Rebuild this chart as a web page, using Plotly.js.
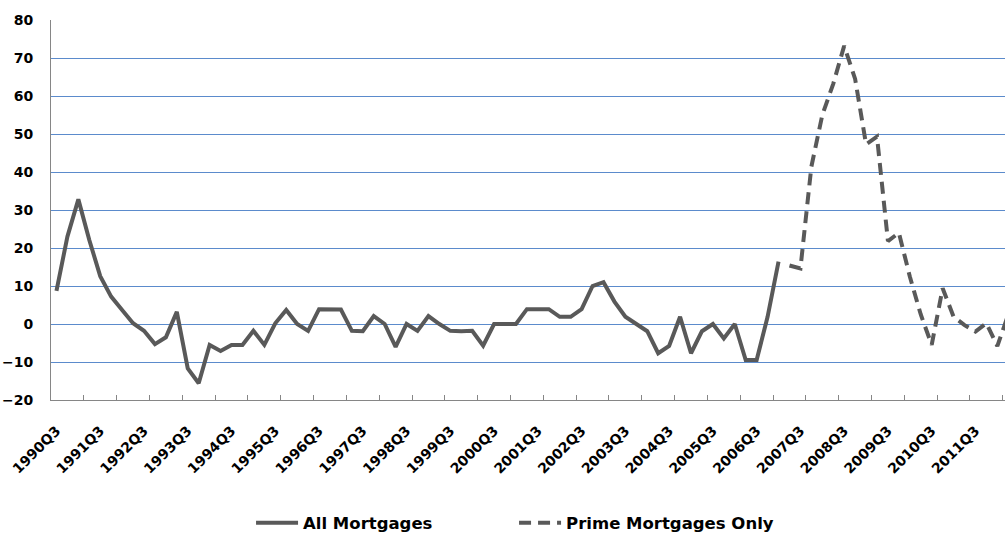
<!DOCTYPE html>
<html>
<head>
<meta charset="utf-8">
<script src="https://cdn.plot.ly/plotly-3.0.1.min.js"></script>
<style>html,body{margin:0;padding:0;background:#fff;}</style>
</head>
<body>
<div id="chart" style="width:1005px;height:537px;"></div>
<script>
// Quarters 1990Q3 .. 2012Q2
const quarters = [
"1990Q3","1990Q4",
"1991Q1","1991Q2","1991Q3","1991Q4",
"1992Q1","1992Q2","1992Q3","1992Q4",
"1993Q1","1993Q2","1993Q3","1993Q4",
"1994Q1","1994Q2","1994Q3","1994Q4",
"1995Q1","1995Q2","1995Q3","1995Q4",
"1996Q1","1996Q2","1996Q3","1996Q4",
"1997Q1","1997Q2","1997Q3","1997Q4",
"1998Q1","1998Q2","1998Q3","1998Q4",
"1999Q1","1999Q2","1999Q3","1999Q4",
"2000Q1","2000Q2","2000Q3","2000Q4",
"2001Q1","2001Q2","2001Q3","2001Q4",
"2002Q1","2002Q2","2002Q3","2002Q4",
"2003Q1","2003Q2","2003Q3","2003Q4",
"2004Q1","2004Q2","2004Q3","2004Q4",
"2005Q1","2005Q2","2005Q3","2005Q4",
"2006Q1","2006Q2","2006Q3","2006Q4",
"2007Q1","2007Q2","2007Q3","2007Q4",
"2008Q1","2008Q2","2008Q3","2008Q4",
"2009Q1","2009Q2","2009Q3","2009Q4",
"2010Q1","2010Q2","2010Q3","2010Q4",
"2011Q1","2011Q2","2011Q3","2011Q4",
"2012Q1","2012Q2"
];

// All Mortgages: 1990Q3 .. 2007Q1
const allMortgages = [
8.7, 23, 32.8, 22.1, 12.6, 7.2, 3.7, 0.2, -1.8, -5.3,
-3.5, 3.2, -11.7, -15.6, -5.5, -7.1, -5.5, -5.5, -1.8, -5.5,
0.2, 3.7, 0, -1.8, 3.9, 3.9, 3.8, -1.8, -1.9, 2.1,
0, -6, 0, -1.8, 2.1, 0, -1.8, -1.9, -1.8, -5.7,
0, 0, 0, 3.9, 3.9, 3.9, 1.9, 1.9, 3.9, 10,
11, 5.9, 1.9, 0, -1.9, -7.7, -5.8, 1.9, -7.7, -1.9,
0, -3.8, 0, -9.5, -9.5, 1.9, 16.4
];

// Prime Mortgages Only: 2007Q2 .. 2012Q2
const primeMortgages = [
15.4, 14.6, 41.4, 55, 63.2, 73.2, 64.5, 47.3, 49.3, 21.8,
24, 12.5, 2.5, -5.5, 9.4, 1.9, -0.3, -2, 0.2, -5.8, 2.5
];

// Axis tick labels (every fourth quarter)
const tickLabels = quarters.filter(q => q.endsWith("Q3"));
const yTicks = [-20, -10, 0, 10, 20, 30, 40, 50, 60, 70, 80];

const idx = quarters.map((q, i) => i);
const allX = idx.slice(0, allMortgages.length);
const primeX = idx.slice(allMortgages.length, allMortgages.length + primeMortgages.length);
const labelPos = tickLabels.map(l => quarters.indexOf(l));
const minorPos = [];
for (let k = 3; k <= quarters.length; k += 3) minorPos.push(k - 0.5);

const lineColor = "#595959";

const traces = [
  {
    x: allX, y: allMortgages, type: "scatter", mode: "lines",
    name: "All Mortgages",
    line: {color: lineColor, width: 4, shape: "linear"},
    hoverinfo: "skip"
  },
  {
    x: primeX, y: primeMortgages, type: "scatter", mode: "lines",
    name: "Prime Mortgages Only",
    line: {color: lineColor, width: 4, dash: "12px,7px"},
    hoverinfo: "skip"
  }
];

const font = "'DejaVu Sans', sans-serif";

const layout = {
  width: 1005, height: 537,
  margin: {l: 51, r: 0, t: 20, b: 137, pad: 0},
  paper_bgcolor: "#ffffff", plot_bgcolor: "#ffffff",
  font: {family: font, color: "#000000"},
  showlegend: true,
  xaxis: {
    type: "linear",
    range: [-0.5, 86.7],
    tickmode: "array",
    tickvals: labelPos,
    ticktext: tickLabels,
    tickangle: -45,
    ticks: "",
    ticklabelstandoff: 16,
    tickfont: {family: font, size: 14, color: "#000000", weight: "bold"},
    showgrid: false,
    zeroline: false,
    showline: true, linecolor: "#868686", linewidth: 1,
    minor: {tickmode: "array", tickvals: minorPos, ticks: "inside", ticklen: 5, tickcolor: "#868686", tickwidth: 1, showgrid: false},
    fixedrange: true
  },
  yaxis: {
    range: [-20, 80],
    tickmode: "array",
    tickvals: yTicks,
    ticks: "",
    ticklabelstandoff: 14,
    tickfont: {family: font, size: 14, color: "#000000", weight: "bold"},
    showgrid: true, gridcolor: "#5b8bcc", gridwidth: 1,
    zeroline: false,
    showline: true, linecolor: "#868686", linewidth: 1,
    fixedrange: true
  },
  legend: {
    orientation: "h",
    xref: "container", yref: "container",
    x: 0.2498, xanchor: "left",
    y: 0.026, yanchor: "middle",
    font: {family: font, size: 16.5, color: "#000000", weight: "bold"},
    itemwidth: 42,
    entrywidth: 206,
    bgcolor: "rgba(0,0,0,0)"
  }
};

Plotly.newPlot("chart", traces, layout, {displayModeBar: false, staticPlot: true});
</script>
</body>
</html>
